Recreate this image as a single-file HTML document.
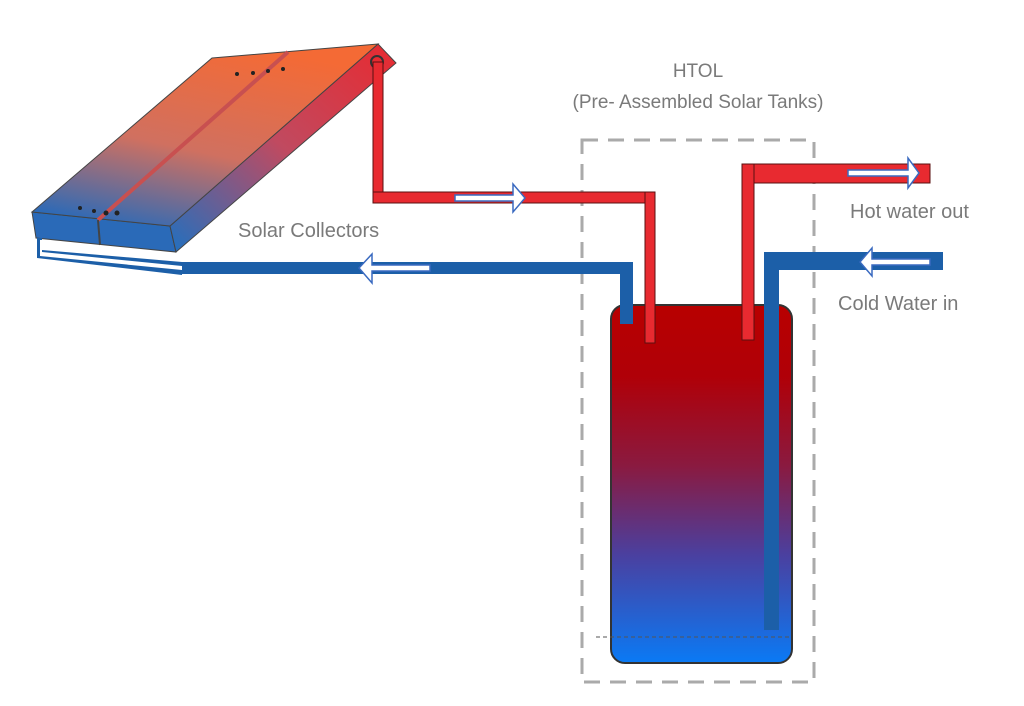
<!DOCTYPE html>
<html><head><style>
body{margin:0;background:#fff;width:1024px;height:701px;overflow:hidden}
text{font-family:"Liberation Sans",sans-serif;fill:#7a7a7a}
</style></head><body>
<svg width="1024" height="701" viewBox="0 0 1024 701">
<defs>
<linearGradient id="tank" x1="0" y1="0" x2="0" y2="1">
<stop offset="0" stop-color="#b80000"/><stop offset="0.2" stop-color="#b00008"/>
<stop offset="0.45" stop-color="#8a1a40"/><stop offset="0.7" stop-color="#4a40a0"/>
<stop offset="1" stop-color="#0a7af5"/></linearGradient>
<linearGradient id="panel" x1="0.6" y1="0" x2="0.2" y2="1">
<stop offset="0" stop-color="#f46a35"/><stop offset="0.55" stop-color="#d07060"/>
<stop offset="1" stop-color="#2a6ab8"/></linearGradient>
<linearGradient id="side" x1="1" y1="0" x2="0" y2="1">
<stop offset="0" stop-color="#e82a30"/><stop offset="0.5" stop-color="#c04a60"/>
<stop offset="1" stop-color="#2070c0"/></linearGradient>
</defs>
<rect x="582" y="140" width="232" height="542" fill="none" stroke="#aaa" stroke-width="3" stroke-dasharray="16,10"/>
<rect x="611" y="305" width="181" height="358" rx="14" fill="url(#tank)" stroke="#333" stroke-width="2"/>
<line x1="596" y1="637" x2="790" y2="637" stroke="#555" stroke-width="1" stroke-dasharray="4,3"/>
<polygon points="32,212 170,226 176,252 36,238" fill="#2a6ab8" stroke="#444"/>
<polygon points="378,44 396,63 176,252 170,226" fill="url(#side)" stroke="#444"/>
<polygon points="212,58 378,44 170,226 32,212" fill="url(#panel)" stroke="#444"/>
<line x1="288" y1="52" x2="98" y2="220" stroke="#c85050" stroke-width="4"/>
<line x1="98" y1="220" x2="100" y2="245" stroke="#444" stroke-width="2"/>
<circle cx="377" cy="62" r="6" fill="#e82a30" stroke="#333" stroke-width="2"/>
<g fill="#222"><circle cx="237" cy="74" r="2"/><circle cx="253" cy="73" r="2"/><circle cx="268" cy="71" r="2"/><circle cx="283" cy="69" r="2"/>
<circle cx="80" cy="208" r="2"/><circle cx="94" cy="211" r="2"/><circle cx="106" cy="213" r="2.5"/><circle cx="117" cy="213" r="2.5"/></g>
<polygon points="37,238 42,238 42,250 182,262 182,275 37,258" fill="#1c5fa8"/>
<polygon points="40,240 42,240 42,252 182,266 182,270 40,256" fill="#fff"/>
<rect x="182" y="262" width="451" height="12" fill="#1c5fa8"/>
<rect x="620" y="262" width="13" height="62" fill="#1c5fa8"/>
<rect x="373" y="62" width="10" height="141" fill="#e82a30" stroke="#5a1010" stroke-width="1"/>
<rect x="373" y="192" width="282" height="11" fill="#e82a30" stroke="#5a1010" stroke-width="1"/>
<rect x="645" y="192" width="10" height="151" fill="#e82a30" stroke="#5a1010" stroke-width="1"/>
<rect x="742" y="164" width="188" height="19" fill="#e82a30" stroke="#5a1010" stroke-width="1"/>
<rect x="742" y="164" width="12" height="176" fill="#e82a30" stroke="#5a1010" stroke-width="1"/>
<rect x="764" y="252" width="179" height="18" fill="#1c5fa8"/>
<rect x="764" y="252" width="15" height="378" fill="#1c5fa8"/>
<g fill="#fff" stroke="#3a6ac0" stroke-width="1.5">
<polygon points="455,195 513,195 513,184 525,198 513,212 513,201 455,201"/>
<polygon points="430,265 372,265 372,254 359,268 372,283 372,271 430,271"/>
<polygon points="848,170 908,170 908,158 919,173 908,188 908,176 848,176"/>
<polygon points="930,259 872,259 872,248 860,262 872,276 872,265 930,265"/>
</g>
<text x="698" y="77" font-size="19" text-anchor="middle">HTOL</text>
<text x="698" y="108" font-size="19" text-anchor="middle">(Pre- Assembled Solar Tanks)</text>
<text x="238" y="237" font-size="20">Solar Collectors</text>
<text x="850" y="218" font-size="20">Hot water out</text>
<text x="838" y="310" font-size="20">Cold Water in</text>
</svg>
</body></html>
